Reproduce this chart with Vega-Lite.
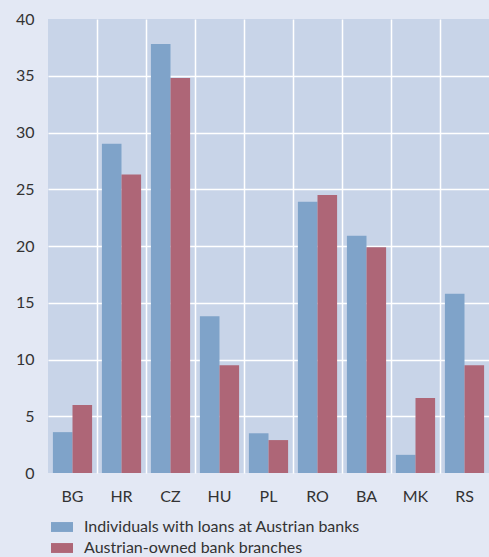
{
  "$schema": "https://vega.github.io/schema/vega-lite/v6.json",
  "width": 441,
  "height": 454,
  "autosize": {"type": "none"},
  "padding": {"left": 48, "top": 19, "right": 0, "bottom": 84},
  "background": "#e3e8f4",
  "data": {
    "values": [
      {"country": "BG", "series": "Individuals with loans at Austrian banks", "value": 3.6},
      {"country": "BG", "series": "Austrian-owned bank branches", "value": 6.0},
      {"country": "HR", "series": "Individuals with loans at Austrian banks", "value": 29.0},
      {"country": "HR", "series": "Austrian-owned bank branches", "value": 26.3},
      {"country": "CZ", "series": "Individuals with loans at Austrian banks", "value": 37.8},
      {"country": "CZ", "series": "Austrian-owned bank branches", "value": 34.8},
      {"country": "HU", "series": "Individuals with loans at Austrian banks", "value": 13.8},
      {"country": "HU", "series": "Austrian-owned bank branches", "value": 9.5},
      {"country": "PL", "series": "Individuals with loans at Austrian banks", "value": 3.5},
      {"country": "PL", "series": "Austrian-owned bank branches", "value": 2.9},
      {"country": "RO", "series": "Individuals with loans at Austrian banks", "value": 23.9},
      {"country": "RO", "series": "Austrian-owned bank branches", "value": 24.5},
      {"country": "BA", "series": "Individuals with loans at Austrian banks", "value": 20.9},
      {"country": "BA", "series": "Austrian-owned bank branches", "value": 19.9},
      {"country": "MK", "series": "Individuals with loans at Austrian banks", "value": 1.6},
      {"country": "MK", "series": "Austrian-owned bank branches", "value": 6.6},
      {"country": "RS", "series": "Individuals with loans at Austrian banks", "value": 15.8},
      {"country": "RS", "series": "Austrian-owned bank branches", "value": 9.5}
    ]
  },
  "mark": {"type": "bar"},
  "encoding": {
    "x": {
      "field": "country",
      "type": "nominal",
      "sort": ["BG", "HR", "CZ", "HU", "PL", "RO", "BA", "MK", "RS"],
      "scale": {"paddingInner": 0, "paddingOuter": 0},
      "axis": {
        "title": null,
        "labelAngle": 0,
        "domain": false,
        "ticks": false,
        "labelFont": "Lato",
        "labelFontSize": 16,
        "labelColor": "#333333",
        "labelPadding": 15,
        "grid": true,
        "bandPosition": 0,
        "gridColor": {"condition": {"test": "datum.value === 'BG'", "value": "transparent"}, "value": "#ffffff"},
        "gridWidth": 1.5,
        "gridOpacity": 1
      }
    },
    "xOffset": {
      "field": "series",
      "type": "nominal",
      "sort": ["Individuals with loans at Austrian banks", "Austrian-owned bank branches"],
      "scale": {"paddingInner": 0, "paddingOuter": 0.25}
    },
    "y": {
      "field": "value",
      "type": "quantitative",
      "scale": {"domain": [0, 40], "nice": false},
      "axis": {
        "title": null,
        "values": [0, 5, 10, 15, 20, 25, 30, 35, 40],
        "domain": false,
        "ticks": false,
        "labelFont": "Lato",
        "labelFontSize": 16,
        "labelColor": "#333333",
        "labelPadding": 14,
        "gridColor": {"condition": {"test": "datum.value === 0 || datum.value === 40", "value": "transparent"}, "value": "#ffffff"},
        "gridWidth": 1.5,
        "gridOpacity": 1
      }
    },
    "color": {
      "field": "series",
      "type": "nominal",
      "scale": {
        "domain": ["Individuals with loans at Austrian banks", "Austrian-owned bank branches"],
        "range": ["#7fa3c9", "#ae6677"]
      },
      "legend": {
        "title": null,
        "orient": "none",
        "legendX": 3,
        "legendY": 497,
        "symbolType": "M-1,-0.45H1V0.45H-1Z",
        "symbolSize": 484,
        "symbolStrokeWidth": 0,
        "symbolOpacity": 1,
        "labelFont": "Lato",
        "labelFontSize": 16,
        "labelColor": "#333333",
        "labelOffset": 11,
        "rowPadding": 2,
        "labelLimit": 400
      }
    }
  },
  "config": {"view": {"fill": "#c8d4e8", "stroke": null}}
}
